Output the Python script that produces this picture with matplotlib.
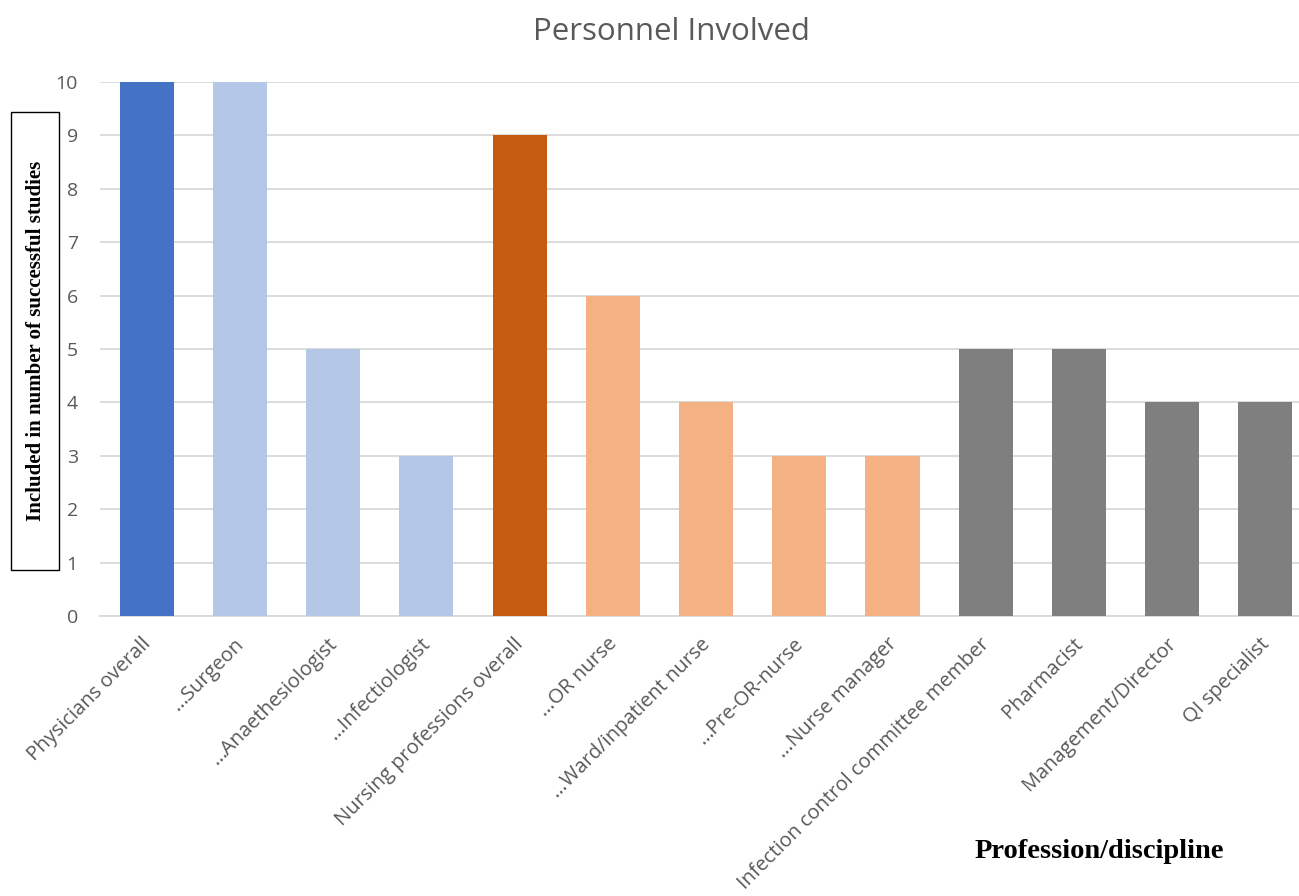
import matplotlib
matplotlib.use('Agg')
import matplotlib.pyplot as plt
from matplotlib.patches import Rectangle
from matplotlib.transforms import ScaledTranslation

# Data
categories = ['Physicians overall', '…Surgeon', '…Anaethesiologist', '…Infectiologist',
              'Nursing professions overall', '…OR nurse', '…Ward/inpatient nurse',
              '…Pre-OR-nurse', '…Nurse manager', 'Infection control committee member',
              'Pharmacist', 'Management/Director', 'QI specialist']
counts = [10, 10, 5, 3, 9, 6, 4, 3, 3, 5, 5, 4, 4]
colors = ['#4472C4', '#B4C7E7', '#B4C7E7', '#B4C7E7', '#C55A11', '#F4B183', '#F4B183',
          '#F4B183', '#F4B183', '#7F7F7F', '#7F7F7F', '#7F7F7F', '#7F7F7F']

plt.rcParams['font.family'] = ['Open Sans', 'DejaVu Sans']

fig = plt.figure(figsize=(12.99, 8.96), dpi=100)
ax = fig.add_axes([100 / 1299, 1 - 616 / 896, 1199 / 1299, 534 / 896])

x = range(len(categories))
ax.bar(x, counts, width=0.58, color=colors, zorder=3)

ax.set_ylim(0, 10)
ax.set_xlim(-0.5, 12.36)
ax.set_yticks(range(0, 11))
ax.set_xticks(list(x))
ax.set_xticklabels(categories, rotation=45, ha='right', rotation_mode='anchor',
                   fontsize=14.5, color='#595959')
ax.tick_params(axis='y', labelsize=14, colors='#595959', length=0, pad=16)
ax.tick_params(axis='x', length=0, pad=13)
# nudge the rotated labels a little to the left, like the original
shift = ScaledTranslation(-0.06, 0, fig.dpi_scale_trans)
for lab in ax.get_xticklabels():
    lab.set_transform(lab.get_transform() + shift)
ax.grid(axis='y', color='#D9D9D9', linewidth=1.3, zorder=0)
for s in ['top', 'right', 'left']:
    ax.spines[s].set_visible(False)
ax.spines['bottom'].set_color('#D9D9D9')
ax.spines['bottom'].set_linewidth(1.3)

fig.text(671 / 1299, 1 - 40 / 896, 'Personnel Involved', ha='center', va='baseline',
         fontsize=22.5, color='#595959')

# boxed y label
fig.patches.append(Rectangle((11 / 1299, 1 - 570 / 896), 48 / 1299, 458 / 896,
                             transform=fig.transFigure, facecolor='white',
                             edgecolor='black', linewidth=1.0))
fig.text(36 / 1299, 1 - 341 / 896, 'Included in number of successful studies',
         rotation=90, ha='center', va='center', fontsize=15, fontweight='bold',
         family=['Liberation Serif', 'DejaVu Serif'])

fig.text(1099 / 1299, 1 - 858 / 896, 'Profession/discipline', ha='center', va='baseline',
         fontsize=20.5, fontweight='bold', family=['Liberation Serif', 'DejaVu Serif'])

fig.savefig('out.png', dpi=100)
